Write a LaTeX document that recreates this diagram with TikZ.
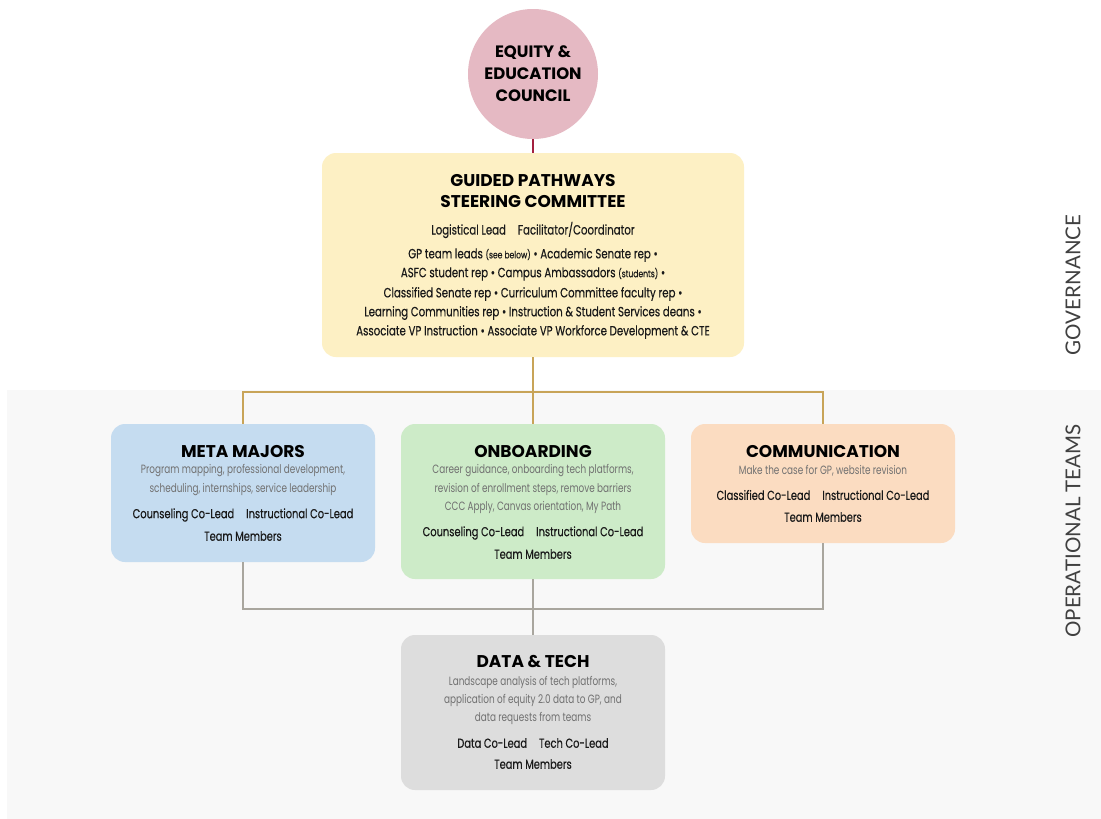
\documentclass[tikz,border=0pt]{standalone}
\usepackage{fontspec}
\setmainfont{Poppins}
\newfontfamily\titlefont{Poppins}
\newfontfamily\bodyfont[FakeStretch=0.76,FakeBold=0.35]{Poppins}
\newfontfamily\descfont[FakeStretch=0.74]{Poppins}
\newfontfamily\sidefont{Lato}
\definecolor{circfill}{HTML}{E5B9C3}
\definecolor{steerfill}{HTML}{FDF0C4}
\definecolor{metafill}{HTML}{C5DCF0}
\definecolor{onbfill}{HTML}{CDEBC8}
\definecolor{comfill}{HTML}{FBDCC1}
\definecolor{datafill}{HTML}{DDDDDD}
\definecolor{bandfill}{HTML}{F8F8F8}
\definecolor{goldline}{HTML}{C8A458}
\definecolor{grayline}{HTML}{A9A69E}
\definecolor{redline}{HTML}{A3203F}
\definecolor{desctext}{HTML}{707070}
\begin{document}
\begin{tikzpicture}[x=1pt,y=-1pt,
  box/.style={rounded corners=14pt,draw=none,inner sep=0pt},
  ttl/.style={font=\titlefont\bfseries\fontsize{17}{20}\selectfont,text=black,inner sep=0pt},
  ctl/.style={font=\titlefont\bfseries\fontsize{16.5}{22}\selectfont,text=black,inner sep=0pt,align=center},
  bod/.style={font=\bodyfont\fontsize{13}{15}\selectfont,text=black!90,inner sep=0pt},
  sbod/.style={font=\bodyfont\fontsize{13.4}{15}\selectfont,text=black!90,inner sep=0pt},
  dsc/.style={font=\descfont\fontsize{12}{14}\selectfont,text=desctext,inner sep=0pt},
  side/.style={font=\sidefont\fontsize{20.5}{24}\selectfont,text=black!75,rotate=90,inner sep=0pt},
  gold/.style={draw=goldline,line width=1.6pt},
  gray/.style={draw=grayline,line width=1.6pt},
]
\useasboundingbox (0,0) rectangle (1101,819);
\fill[white] (0,0) rectangle (1101,819);
\fill[bandfill] (7,390) rectangle (1101,819);

% nodes
\node[circle,fill=circfill,minimum size=130pt,inner sep=0pt] (eec) at (533,74) {};
\node[box,fill=steerfill,minimum width=422pt,minimum height=204pt] (gp) at (533,255) {};
\node[box,fill=metafill,minimum width=264pt,minimum height=138pt] (mm) at (243,493) {};
\node[box,fill=onbfill,minimum width=264pt,minimum height=155pt] (onb) at (533,501.5) {};
\node[box,fill=comfill,minimum width=264pt,minimum height=119pt] (com) at (823,483.5) {};
\node[box,fill=datafill,minimum width=264pt,minimum height=155pt] (dt) at (533,712.5) {};

% connectors
\coordinate (jt) at (533,392);
\coordinate (jb) at (533,609);
\draw[draw=redline,line width=1.4pt] (eec.south) -- (gp.north);
\draw[gold] (gp.south) -- (jt);
\draw[gold] (jt) -- (onb.north);
\draw[gold] (jt) -| (mm.north);
\draw[gold] (jt) -| (com.north);
\draw[gray] (mm.south) |- (jb);
\draw[gray] (com.south) |- (jb);
\draw[gray] (onb.south) -- (dt.north);

% circle text
\node[ctl] (eect) at (533,74) {EQUITY \&\\EDUCATION\\COUNCIL};

% steering text
\node[ttl] (gp1) at (533,181) {GUIDED PATHWAYS};
\node[ttl] (gp2) at (533,202) {STEERING COMMITTEE};
\node[sbod] (gp3) at (533,230) {Logistical Lead\hspace{12pt}Facilitator/Coordinator};
\node[sbod] (gp4) at (533,255) {GP team leads {\fontsize{10}{12}\selectfont(see below)} • Academic Senate rep •};
\node[sbod] (gp5) at (533,274) {ASFC student rep • Campus Ambassadors {\fontsize{10}{12}\selectfont(students)} •};
\node[sbod] (gp6) at (533,294) {Classified Senate rep • Curriculum Committee faculty rep •};
\node[sbod] (gp7) at (533,313) {Learning Communities rep • Instruction \& Student Services deans •};
\node[sbod] (gp8) at (533,332) {Associate VP Instruction • Associate VP Workforce Development \& CTE};

% meta majors
\node[ttl] (mm1) at (243,452) {META MAJORS};
\node[dsc] (mm2) at (243,471) {Program mapping, professional development,};
\node[dsc] (mm3) at (243,490) {scheduling, internships, service leadership};
\node[bod] (mm4) at (243,515) {Counseling Co-Lead\hspace{12pt}Instructional Co-Lead};
\node[bod] (mm5) at (243,536) {Team Members};

% onboarding
\node[ttl] (on1) at (533,452) {ONBOARDING};
\node[dsc] (on2) at (533,471) {Career guidance, onboarding tech platforms,};
\node[dsc] (on3) at (533,489) {revision of enrollment steps, remove barriers};
\node[dsc] (on4) at (533,507) {CCC Apply, Canvas orientation, My Path};
\node[bod] (on5) at (533,533) {Counseling Co-Lead\hspace{12pt}Instructional Co-Lead};
\node[bod] (on6) at (533,554) {Team Members};

% communication
\node[ttl] (co1) at (823,452) {COMMUNICATION};
\node[dsc] (co2) at (823,471) {Make the case for GP, website revision};
\node[bod] (co3) at (823,495) {Classified Co-Lead\hspace{12pt}Instructional Co-Lead};
\node[bod] (co4) at (823,517) {Team Members};

% data & tech
\node[ttl] (dt1) at (533,662) {DATA \& TECH};
\node[dsc] (dt2) at (533,682) {Landscape analysis of tech platforms,};
\node[dsc] (dt3) at (533,700) {application of equity 2.0 data to GP, and};
\node[dsc] (dt4) at (533,718) {data requests from teams};
\node[bod] (dt5) at (533,743) {Data Co-Lead\hspace{12pt}Tech Co-Lead};
\node[bod] (dt6) at (533,764) {Team Members};

% side labels
\node[side] (gov) at (1073,285) {GOVERNANCE};
\node[side] (ops) at (1073,531) {OPERATIONAL TEAMS};
\end{tikzpicture}
\end{document}
